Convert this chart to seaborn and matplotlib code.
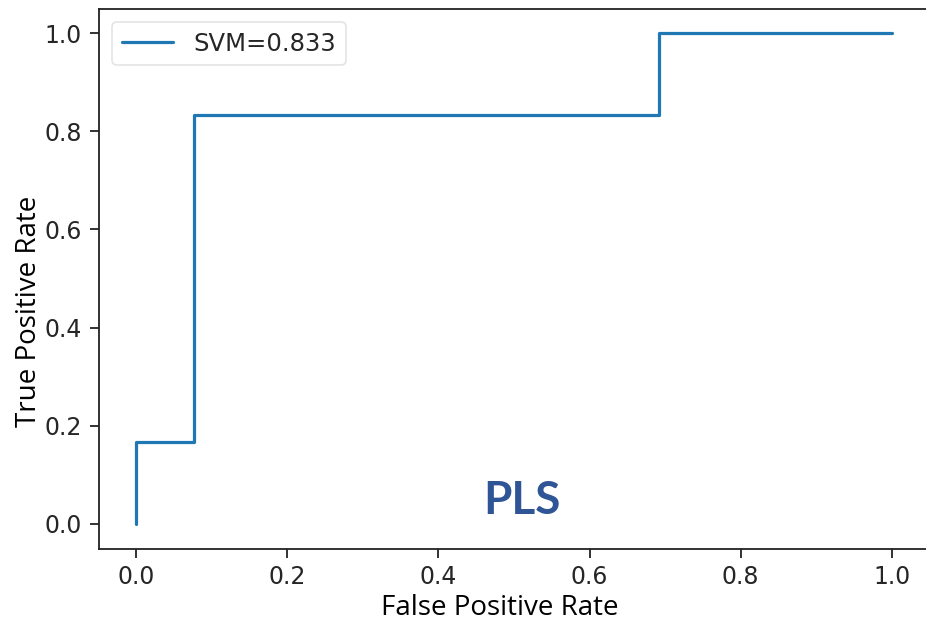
import matplotlib
matplotlib.use("Agg")
import matplotlib.pyplot as plt
import seaborn as sns
import pandas as pd

# ROC curve points for the SVM classifier
fpr = [0.0, 0.0, 0.077, 0.077, 0.692, 0.692, 1.0]
tpr = [0.0, 0.167, 0.167, 0.833, 0.833, 1.0, 1.0]
model_name = "SVM"
auc_value = 0.833
panel_title = "PLS"

xticks = [0.0, 0.2, 0.4, 0.6, 0.8, 1.0]
yticks = [0.0, 0.2, 0.4, 0.6, 0.8, 1.0]

sns.set_style("ticks")
plt.rcParams["font.family"] = ["DejaVu Sans"]

df = pd.DataFrame({"fpr": fpr, "tpr": tpr})

fig = plt.figure(figsize=(9.26, 6.26), dpi=100)
ax = fig.add_axes([98.5 / 926, 77.5 / 626, 831 / 926, 540 / 626])

sns.lineplot(data=df, x="fpr", y="tpr", sort=False, estimator=None,
             color="#1f77b4", linewidth=2.3,
             label=f"{model_name}={auc_value:.3f}", ax=ax)

ax.set_xlim(-0.05, 1.05)
ax.set_ylim(-0.05, 1.05)
ax.set_xticks(xticks)
ax.set_yticks(yticks)
ax.set_xticklabels([f"{t:.1f}" for t in xticks])
ax.set_yticklabels([f"{t:.1f}" for t in yticks])
ax.tick_params(axis="both", labelsize=17, length=6.5, width=1.3, pad=5.5,
               colors="#222222", labelcolor="#262626")
ax.spines["right"].set_visible(False)
for s in ax.spines.values():
    s.set_linewidth(1.3)
    s.set_color("#222222")

ax.set_xlabel("False Positive Rate", fontsize=20, family=["Open Sans"], color="black")
ax.set_ylabel("True Positive Rate", fontsize=20, family=["Open Sans"], color="black")
ax.xaxis.set_label_coords(0.483, -0.085)
ax.yaxis.set_label_coords(-0.067, 0.44)

leg = ax.legend(loc="upper left", fontsize=17.5, frameon=True, handlelength=2.1,
                handletextpad=0.85, borderpad=0.4, borderaxespad=0.55)
leg.get_frame().set_edgecolor("#dddddd")
leg.get_frame().set_linewidth(1.2)

ax.text(0.51, 0.047, panel_title, fontsize=33, fontweight="bold",
        family=["Lato"], color="#2F5597", ha="center", va="center")

fig.savefig("out.png", dpi=100)
